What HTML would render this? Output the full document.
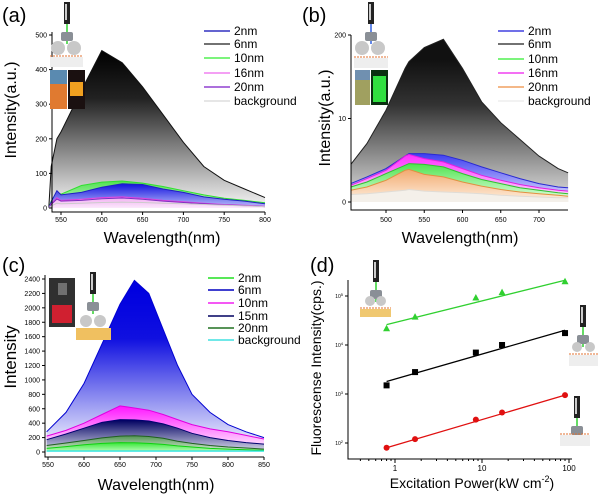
<!DOCTYPE html>
<html><head><meta charset="utf-8">
<style>
html,body{margin:0;padding:0;background:#fff;}
svg{display:block;font-family:"Liberation Sans",Arial,sans-serif;}
</style></head>
<body>
<svg id="fig" width="600" height="496" viewBox="0 0 600 496" xmlns="http://www.w3.org/2000/svg">
<defs>
 <linearGradient id="gBlackA" gradientUnits="userSpaceOnUse" x1="0" y1="50" x2="0" y2="212"><stop offset="0" stop-color="#000"/><stop offset="0.3" stop-color="#222"/><stop offset="1" stop-color="#fff"/></linearGradient>
 <linearGradient id="gGreenA" gradientUnits="userSpaceOnUse" x1="0" y1="180" x2="0" y2="212"><stop offset="0" stop-color="#4be04b"/><stop offset="1" stop-color="#e8ffe8"/></linearGradient>
 <linearGradient id="gBlueA" gradientUnits="userSpaceOnUse" x1="0" y1="185" x2="0" y2="212"><stop offset="0" stop-color="#1a1ae0"/><stop offset="1" stop-color="#dde0ff"/></linearGradient>
 <linearGradient id="gMagA" gradientUnits="userSpaceOnUse" x1="0" y1="195" x2="0" y2="212"><stop offset="0" stop-color="#f0a0f0"/><stop offset="1" stop-color="#fff"/></linearGradient>
 <linearGradient id="gBlackB" gradientUnits="userSpaceOnUse" x1="0" y1="60" x2="0" y2="210"><stop offset="0" stop-color="#111"/><stop offset="0.3" stop-color="#333"/><stop offset="1" stop-color="#f0f0f0"/></linearGradient>
 <linearGradient id="gBlueB" gradientUnits="userSpaceOnUse" x1="0" y1="150" x2="0" y2="200"><stop offset="0" stop-color="#3030f0"/><stop offset="1" stop-color="#e0e0ff"/></linearGradient>
 <linearGradient id="gMagB" gradientUnits="userSpaceOnUse" x1="0" y1="155" x2="0" y2="200"><stop offset="0" stop-color="#ff30ff"/><stop offset="1" stop-color="#ffe0ff"/></linearGradient>
 <linearGradient id="gGreenB" gradientUnits="userSpaceOnUse" x1="0" y1="160" x2="0" y2="200"><stop offset="0" stop-color="#40e040"/><stop offset="1" stop-color="#e0ffe0"/></linearGradient>
 <linearGradient id="gOrB" gradientUnits="userSpaceOnUse" x1="0" y1="165" x2="0" y2="202"><stop offset="0" stop-color="#f0a060"/><stop offset="1" stop-color="#fff0e0"/></linearGradient>
 <linearGradient id="gBlueC" gradientUnits="userSpaceOnUse" x1="0" y1="290" x2="0" y2="452"><stop offset="0" stop-color="#0000e0"/><stop offset="0.3" stop-color="#1010e0"/><stop offset="1" stop-color="#fff"/></linearGradient>
 <linearGradient id="gMagC" gradientUnits="userSpaceOnUse" x1="0" y1="405" x2="0" y2="452"><stop offset="0" stop-color="#ff10ff"/><stop offset="1" stop-color="#fff"/></linearGradient>
 <linearGradient id="gNavyC" gradientUnits="userSpaceOnUse" x1="0" y1="420" x2="0" y2="452"><stop offset="0" stop-color="#000060"/><stop offset="1" stop-color="#e0e0f0"/></linearGradient>
 <linearGradient id="gDGreenC" gradientUnits="userSpaceOnUse" x1="0" y1="432" x2="0" y2="452"><stop offset="0" stop-color="#308030"/><stop offset="1" stop-color="#e0f0e0"/></linearGradient>
 <linearGradient id="gGreenC" gradientUnits="userSpaceOnUse" x1="0" y1="440" x2="0" y2="452"><stop offset="0" stop-color="#10e010"/><stop offset="1" stop-color="#c0ffc0"/></linearGradient>
</defs>
<g id="layer"></g>
</svg>
<script>
// ---------- Panel (a) data ----------
const aWl = [535,538,545,550,575,600,625,650,675,700,725,750,775,800];
const a6nm = [0,120,200,220,340,455,420,350,270,190,120,80,55,30];
const a10nm = [0,20,45,40,65,75,78,72,62,50,38,28,22,15];
const a2nm = [0,18,50,38,45,60,70,68,55,45,32,25,20,12];
const a16nm = [0,12,30,22,25,30,32,28,22,18,14,10,8,5];
const a20nm = [0,10,26,20,22,27,29,25,20,16,12,9,7,4];
const aBg = [0,6,14,12,14,16,17,16,14,12,10,8,6,4];
const aXTicks = [550,600,650,700,750,800];
const aYTicks = [0,100,200,300,400,500];
// ---------- Panel (b) data ----------
const bWl = [454,475,500,525,530,550,575,600,625,650,675,700,725,738];
const b6nm = [45,70,110,160,168,185,195,160,120,95,75,55,40,35];
const b2nm = [22,30,40,55,58,58,56,50,42,35,28,22,18,17];
const b16nm = [20,28,38,55,57,52,48,40,32,26,21,17,14,13];
const b10nm = [18,24,34,44,46,45,42,34,27,22,17,14,11,10];
const b20nm = [14,18,26,38,39,33,30,24,19,15,12,10,8,7];
const bBg = [9,10,12,14,15,13,12,11,10,8,7,6,5,5];
const bXTicks = [500,550,600,650,700];
const bYTicks = [0,100,200];
const bYLabels = ['0','10','200'];
// ---------- Panel (c) data ----------
const cWl = [548,575,600,625,650,670,690,710,730,750,775,800,825,850];
const c6nm = [280,550,950,1500,2050,2380,2200,1700,1200,800,550,380,280,200];
const c10nm = [220,300,400,520,640,610,580,520,450,380,320,280,230,180];
const c15nm = [170,250,330,410,450,445,430,390,330,260,200,160,130,110];
const c20nm = [90,125,160,195,220,225,215,190,150,120,90,70,55,40];
const c2nm = [50,75,100,120,130,128,120,105,85,70,50,40,30,25];
const cBg = [15,15,15,15,15,15,15,15,15,15,15,15,15,15];
const cXTicks = [550,600,650,700,750,800,850];
const cYTicks = [0,200,400,600,800,1000,1200,1400,1600,1800,2000,2200,2400];
// ---------- Panel (d) data ----------
const dPower = [0.8,1.7,8.5,17,90];
const dGreen = [22000,38000,93000,120000,200000];
const dBlack = [1500,2800,7000,10000,17500];
const dRed = [80,120,300,420,950];
const dGreenFit = [26000,210000];
const dBlackFit = [1800,20000];
const dRedFit = [80,950];
const dFitX = [0.8,90];
const dXTicks = [1,10,100];
const dYTicks = [100,1000,10000,100000];
const dYLabels = ['2','3','4','5'];

const NS='http://www.w3.org/2000/svg';
const layer=document.getElementById('layer');
function el(tag,attrs,parent,text){const e=document.createElementNS(NS,tag);for(const k in attrs)e.setAttribute(k,attrs[k]);if(text!==undefined)e.textContent=text;(parent||layer).appendChild(e);return e;}
function lin(d0,d1,p0,p1){return v=>p0+(v-d0)*(p1-p0)/(d1-d0);}
function logs(d0,d1,p0,p1){return v=>p0+(Math.log10(v)-Math.log10(d0))*(p1-p0)/(Math.log10(d1)-Math.log10(d0));}

function series(g,xs,ys,sx,sy,fill,stroke,name){
  let pts=xs.map((x,i)=>sx(x).toFixed(1)+','+sy(ys[i]).toFixed(1));
  const poly=el('polygon',{points:sx(xs[0])+','+sy(0)+' '+pts.join(' ')+' '+sx(xs[xs.length-1])+','+sy(0),fill:fill,stroke:'none'},g);
  
  
  const pl=el('polyline',{points:pts.join(' '),fill:'none',stroke:stroke,'stroke-width':1},g);
  
  
}
function axes(g,x0,x1,y0,y1,name){
  const ax=el('path',{d:`M${x0},${y1} L${x0},${y0} L${x1},${y0}`,fill:'none',stroke:'#000','stroke-width':1},g);
  
  
}
function legend(g,x,ys,labels,colors,name){
  labels.forEach((l,i)=>{
    const ln=el('line',{x1:x,y1:ys[i],x2:x+26,y2:ys[i],stroke:colors[i],'stroke-width':1.5},g);
    
    
    const t=el('text',{x:x+30,y:ys[i]+4,'font-size':12},g,l);
    
    
  });
}
function label(g,x,y,txt,size,name,extra){
  const t=el('text',Object.assign({x:x,y:y,'font-size':size},extra||{}),g,txt);
  
  
  return t;
}
function objective(g,x,y,beam){
  el('rect',{x:x,y:y,width:6,height:22,fill:'#222'},g);
  el('rect',{x:x+1,y:y+2,width:2,height:16,fill:'#ccc'},g);
  el('line',{x1:x+3,y1:y+22,x2:x+3,y2:y+30,stroke:beam,'stroke-width':1.5},g);
  el('rect',{x:x-3,y:y+30,width:12,height:9,fill:'#8a8f96',rx:2},g);
  el('line',{x1:x+3,y1:y+39,x2:x+3,y2:y+42,stroke:beam,'stroke-width':1.5},g);
}

// ================= Panel A =================
(function(){
  const g=el('g',{});
  
  
  const sx=lin(550,800,61,265), sy=lin(0,500,208,35);
  series(g,aWl,a6nm,sx,sy,'url(#gBlackA)','#111','a-6nm');
  series(g,aWl,a10nm,sx,sy,'url(#gGreenA)','#30e030','a-10nm');
  series(g,aWl,a2nm,sx,sy,'url(#gBlueA)','#2020c0','a-2nm');
  series(g,aWl,a16nm,sx,sy,'url(#gMagA)','#e040e0','a-16nm');
  series(g,aWl,a20nm,sx,sy,'none','#8030c0','a-20nm');
  series(g,aWl,aBg,sx,sy,'none','#ccc','a-background');
  axes(g,52,265,212,32,'a');
  aXTicks.forEach(v=>{el('line',{x1:sx(v),y1:212,x2:sx(v),y2:215,stroke:'#000'},g);label(g,sx(v),222,String(v),7,'a-x-tick-'+v,{'text-anchor':'middle'});});
  aYTicks.forEach(v=>{el('line',{x1:49,y1:sy(v),x2:52,y2:sy(v),stroke:'#000'},g);label(g,47,sy(v)+2.5,String(v),7,'a-y-tick-'+v,{'text-anchor':'end'});});
  label(g,162,243,'Wavelength(nm)',16,'a-x-axis-title',{'text-anchor':'middle'});
  label(g,16,110,'Intensity(a.u.)',16,'a-y-axis-title',{'text-anchor':'middle',transform:'rotate(-90 16 110)'});
  label(g,2,22,'(a)',20,'a-panel-label');
  legend(g,204,[31,44,58,73,87,101],['2nm','6nm','10nm','16nm','20nm','background'],['#3030c0','#444','#50f050','#f080f0','#9040d0','#ddd'],'a');
  objective(g,64,2,'#30d030');
  el('circle',{cx:58,cy:48,r:7,fill:'#c8c8c8'},g);el('circle',{cx:74,cy:48,r:7,fill:'#c8c8c8'},g);
  el('line',{x1:50,y1:56,x2:83,y2:56,stroke:'#e07030','stroke-dasharray':'2,1'},g);
  el('rect',{x:50,y:57,width:33,height:10,fill:'#eee'},g);
  el('rect',{x:50,y:70,width:17,height:39,fill:'#e07a30'},g);el('rect',{x:50,y:70,width:17,height:14,fill:'#5a8ab0'},g);
  el('rect',{x:68,y:70,width:17,height:39,fill:'#1a1010'},g);el('rect',{x:70,y:82,width:13,height:14,fill:'#f0a020'},g);
})();

// ================= Panel B =================
(function(){
  const g=el('g',{});
  
  
  const sx=lin(500,700,386,539), sy=lin(0,200,202,35);
  series(g,bWl,b6nm,sx,sy,'url(#gBlackB)','#222','b-6nm');
  series(g,bWl,b2nm,sx,sy,'url(#gBlueB)','#2a2ad0','b-2nm');
  series(g,bWl,b16nm,sx,sy,'url(#gMagB)','#e020e0','b-16nm');
  series(g,bWl,b10nm,sx,sy,'url(#gGreenB)','#30c030','b-10nm');
  series(g,bWl,b20nm,sx,sy,'url(#gOrB)','#e09040','b-20nm');
  series(g,bWl,bBg,sx,sy,'#f4f0ea','#e0dcd6','b-background');
  axes(g,351,568,210,35,'b');
  bXTicks.forEach(v=>{el('line',{x1:sx(v),y1:210,x2:sx(v),y2:213,stroke:'#000'},g);label(g,sx(v),222,String(v),7,'b-x-tick-'+v,{'text-anchor':'middle'});});
  bYTicks.forEach((v,i)=>{el('line',{x1:348,y1:sy(v),x2:351,y2:sy(v),stroke:'#000'},g);label(g,346,sy(v)+2.5,bYLabels[i],7,'b-y-tick-'+v,{'text-anchor':'end'});});
  label(g,460,243,'Wavelength(nm)',16,'b-x-axis-title',{'text-anchor':'middle'});
  label(g,330,118,'Intensity(a.u.)',16,'b-y-axis-title',{'text-anchor':'middle',transform:'rotate(-90 330 118)'});
  label(g,302,22,'(b)',20,'b-panel-label');
  legend(g,498,[31,44,59,73,87,101],['2nm','6nm','10nm','16nm','20nm','background'],['#4040e0','#444','#50f050','#f040f0','#f0a060','#eee'],'b');
  objective(g,368,2,'#3060e0');
  el('circle',{cx:362,cy:48,r:7,fill:'#c8c8c8'},g);el('circle',{cx:378,cy:48,r:7,fill:'#c8c8c8'},g);
  el('line',{x1:354,y1:57,x2:388,y2:57,stroke:'#e07030','stroke-dasharray':'2,1'},g);
  el('rect',{x:354,y:58,width:34,height:10,fill:'#eee'},g);
  el('rect',{x:355,y:70,width:15,height:35,fill:'#a0a060'},g);el('rect',{x:355,y:70,width:15,height:10,fill:'#7090b0'},g);
  el('rect',{x:371,y:70,width:17,height:35,fill:'#0a3010'},g);el('rect',{x:373,y:76,width:13,height:26,fill:'#30e040'},g);
})();

// ================= Panel C =================
(function(){
  const g=el('g',{});
  
  
  const sx=lin(550,850,48,264), sy=lin(0,2400,452,279);
  series(g,cWl,c6nm,sx,sy,'url(#gBlueC)','#0000d0','c-6nm');
  series(g,cWl,c10nm,sx,sy,'url(#gMagC)','#e000e0','c-10nm');
  series(g,cWl,c15nm,sx,sy,'url(#gNavyC)','#000070','c-15nm');
  series(g,cWl,c20nm,sx,sy,'url(#gDGreenC)','#206020','c-20nm');
  series(g,cWl,c2nm,sx,sy,'url(#gGreenC)','#10d010','c-2nm');
  series(g,cWl,cBg,sx,sy,'#80f0f0','#30e0e0','c-background');
  axes(g,45,264,457,275,'c');
  cXTicks.forEach(v=>{el('line',{x1:sx(v),y1:457,x2:sx(v),y2:460,stroke:'#000'},g);label(g,sx(v),467,String(v),7,'c-x-tick-'+v,{'text-anchor':'middle'});});
  cYTicks.forEach(v=>{el('line',{x1:42,y1:sy(v),x2:45,y2:sy(v),stroke:'#000'},g);label(g,40,sy(v)+2.5,String(v),7,'c-y-tick-'+v,{'text-anchor':'end'});});
  label(g,156,490,'Wavelength(nm)',16,'c-x-axis-title',{'text-anchor':'middle'});
  label(g,16,357,'Intensity',17,'c-y-axis-title',{'text-anchor':'middle',transform:'rotate(-90 16 357)'});
  label(g,2,272,'(c)',20,'c-panel-label');
  legend(g,208,[278,290,303,316,328,340],['2nm','6nm','10nm','15nm','20nm','background'],['#20e020','#0000c0','#f020f0','#000060','#207020','#40e0e0'],'c');
  el('rect',{x:49,y:278,width:26,height:49,fill:'#303030'},g);el('rect',{x:52,y:305,width:20,height:18,fill:'#d02030'},g);el('rect',{x:58,y:283,width:9,height:12,fill:'#707070'},g);
  objective(g,90,272,'#30d030');
  el('circle',{cx:86,cy:321,r:6,fill:'#c8c8c8'},g);el('circle',{cx:100,cy:321,r:6,fill:'#c8c8c8'},g);
  el('rect',{x:76,y:328,width:35,height:12,fill:'#f0c060'},g);
})();

// ================= Panel D =================
(function(){
  const g=el('g',{});
  
  
  const sx=logs(1,100,395,569), sy=logs(100,100000,443,296);
  axes(g,348,572,459,280,'d');
  dXTicks.forEach(v=>{el('line',{x1:sx(v),y1:459,x2:sx(v),y2:463,stroke:'#000'},g);label(g,sx(v),471,String(v),8,'d-x-tick-'+v,{'text-anchor':'middle'});});
  [0.4,0.5,0.6,0.7,0.8,0.9,2,3,4,5,6,7,8,9,20,30,40,50,60,70,80,90].forEach(v=>el('line',{x1:sx(v),y1:459,x2:sx(v),y2:461,stroke:'#000'},g));
  dYTicks.forEach((v,i)=>{el('line',{x1:345,y1:sy(v),x2:348,y2:sy(v),stroke:'#000'},g);
    const t=label(g,343,sy(v)+2,'10',5,'d-y-tick-'+v,{'text-anchor':'end'});
    el('tspan',{dy:-2,'font-size':4},t,dYLabels[i]);});
  const sets=[[dGreen,dGreenFit,'#30d030','triangle','green'],[dBlack,dBlackFit,'#000','square','black'],[dRed,dRedFit,'#e01010','circle','red']];
  sets.forEach(s=>{
    const fl=el('line',{x1:sx(dFitX[0]),y1:sy(s[1][0]),x2:sx(dFitX[1]),y2:sy(s[1][1]),stroke:s[2],'stroke-width':1.3},g);
    
    
    dPower.forEach((p,i)=>{
      const x=sx(p),y=sy(s[0][i]);let m;
      if(s[3]==='triangle')m=el('polygon',{points:`${x},${y-3.5} ${x-3.5},${y+3} ${x+3.5},${y+3}`,fill:s[2]},g);
      else if(s[3]==='square')m=el('rect',{x:x-3,y:y-3,width:6,height:6,fill:s[2]},g);
      else m=el('circle',{cx:x,cy:y,r:3,fill:s[2]},g);
      
      
    });
  });
  const xt=label(g,472,488,'Excitation Power(kW cm',14,'d-x-axis-title',{'text-anchor':'middle'});
  el('tspan',{dy:-6,'font-size':9},xt,'-2');el('tspan',{dy:6},xt,')');
  label(g,321,368,'Fluorescense Intensity(cps.)',14,'d-y-axis-title',{'text-anchor':'middle',transform:'rotate(-90 321 368)'});
  label(g,310,272,'(d)',20,'d-panel-label');
  objective(g,373,260,'#30d030');
  el('circle',{cx:370,cy:301,r:5,fill:'#c8c8c8'},g);el('circle',{cx:381,cy:301,r:5,fill:'#c8c8c8'},g);
  el('line',{x1:360,y1:308,x2:391,y2:308,stroke:'#e07030','stroke-dasharray':'2,1'},g);
  el('rect',{x:360,y:309,width:31,height:8,fill:'#f0c870'},g);
  objective(g,580,305,'#30d030');
  el('circle',{cx:577,cy:347,r:5,fill:'#c8c8c8'},g);el('circle',{cx:590,cy:347,r:5,fill:'#c8c8c8'},g);
  el('line',{x1:569,y1:354,x2:598,y2:354,stroke:'#e07030','stroke-dasharray':'2,1'},g);
  el('rect',{x:569,y:355,width:29,height:11,fill:'#eee'},g);
  objective(g,574,396,'#30d030');
  el('line',{x1:560,y1:434,x2:590,y2:434,stroke:'#e07030','stroke-dasharray':'2,1'},g);
  el('rect',{x:560,y:435,width:30,height:11,fill:'#eee'},g);
})();
</script>
</body></html>
